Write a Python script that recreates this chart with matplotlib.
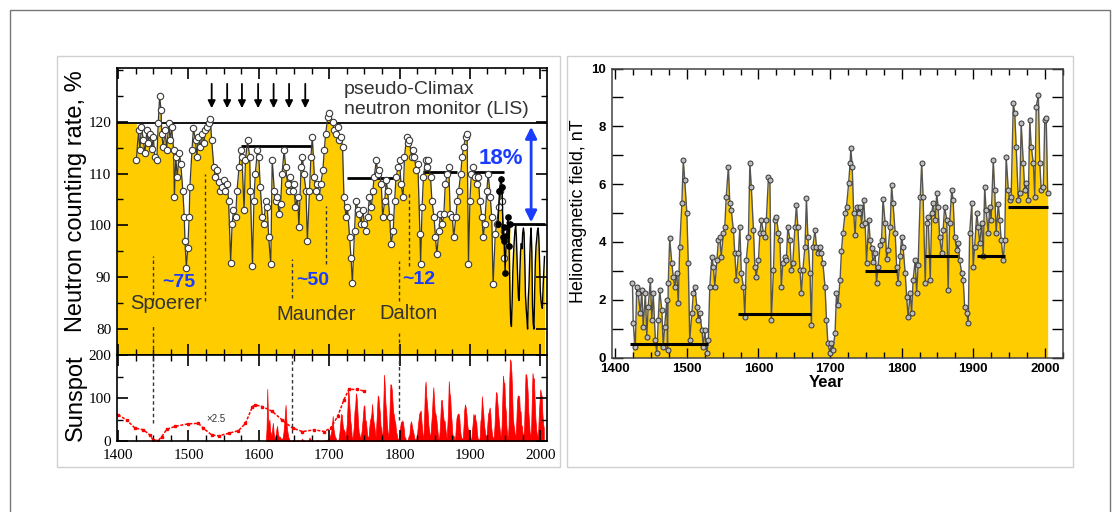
"""
Pseudo-Climax neutron monitor / sunspots (left) and heliomagnetic field (right).
"""
import matplotlib
matplotlib.use("Agg")
from matplotlib import pyplot as plt
from matplotlib.patches import Rectangle
from matplotlib.ticker import MultipleLocator, FixedLocator

plt.rcParams['font.family'] = ['Liberation Sans', 'DejaVu Sans']

# ---------------- data: neutron counting rate (10Be based, annual) ----------------
n_years = [1426, 1429, 1431, 1433, 1436, 1438, 1441, 1443, 1445, 1448,
           1450, 1452, 1455, 1457, 1459, 1461, 1462, 1464, 1467, 1469,
           1472, 1474, 1476, 1479, 1480, 1482, 1484, 1487, 1489, 1492,
           1494, 1495, 1497, 1499, 1501, 1502, 1505, 1507, 1510, 1512,
           1514, 1517, 1519, 1522, 1524, 1526, 1529, 1531, 1533, 1536,
           1538, 1541, 1543, 1545, 1548, 1550, 1552, 1555, 1557, 1560,
           1562, 1564, 1567, 1569, 1572, 1574, 1576, 1579, 1581, 1584,
           1587, 1588, 1591, 1593, 1595, 1598, 1600, 1602, 1605, 1607,
           1610, 1612, 1614, 1617, 1619, 1622, 1624, 1626, 1629, 1631,
           1633, 1636, 1638, 1641, 1643, 1645, 1648, 1650, 1652, 1655,
           1657, 1660, 1662, 1664, 1667, 1669, 1672, 1674, 1676, 1679,
           1681, 1683, 1686, 1688, 1691, 1693, 1695, 1698, 1700, 1705,
           1707, 1710, 1712, 1714, 1717, 1719, 1721, 1724, 1726, 1729,
           1731, 1733, 1736, 1738, 1741, 1743, 1745, 1748, 1750, 1752,
           1755, 1757, 1760, 1762, 1764, 1767, 1769, 1771, 1774, 1776,
           1779, 1781, 1783, 1786, 1788, 1791, 1793, 1795, 1798, 1800,
           1802, 1805, 1807, 1810, 1812, 1814, 1817, 1819, 1821, 1824,
           1826, 1829, 1830, 1832, 1834, 1837, 1839, 1841, 1844, 1846,
           1849, 1851, 1853, 1856, 1858, 1861, 1863, 1865, 1868, 1870,
           1872, 1875, 1877, 1880, 1882, 1884, 1887, 1889, 1891, 1894,
           1896, 1898, 1900, 1902, 1905, 1907, 1910, 1912, 1914, 1917,
           1919, 1921, 1924, 1926, 1929, 1931, 1933, 1936, 1938, 1941,
           1943, 1945, 1948, 1949]
n_values = [112.6, 118.4, 114.5, 119.0, 116.4, 113.9, 118.4, 115.8, 117.7, 114.8,
            117.1, 113.2, 112.6, 119.7, 124.9, 122.3, 117.7, 115.1, 118.4, 114.5,
            119.7, 116.4, 119.0, 114.5, 105.4, 113.2, 109.3, 113.9, 111.9, 106.7,
            101.6, 97.0, 91.8, 95.7, 101.6, 107.4, 114.5, 118.7, 116.4, 113.2,
            117.1, 115.1, 117.7, 115.8, 118.4, 119.0, 119.7, 120.6, 116.4, 111.3,
            109.3, 110.6, 108.4, 106.7, 107.4, 108.7, 106.7, 108.0, 104.8, 92.8,
            100.3, 102.9, 101.6, 106.7, 111.3, 114.5, 113.2, 102.9, 112.6, 116.4,
            113.2, 106.7, 92.2, 104.8, 110.0, 114.5, 113.2, 107.4, 101.6, 100.3,
            104.8, 103.5, 97.7, 92.5, 112.6, 106.7, 104.8, 105.4, 102.2, 104.1,
            110.0, 114.5, 111.3, 108.0, 106.7, 109.3, 106.7, 108.0, 103.5, 105.4,
            99.6, 111.3, 113.2, 110.0, 106.7, 97.0, 106.7, 113.2, 117.1, 109.3,
            106.7, 108.0, 105.4, 108.0, 110.6, 114.5, 117.7, 121.0, 121.6, 120.0,
            118.4, 117.7, 119.0, 116.4, 117.1, 115.1, 105.4, 101.6, 103.5, 97.7,
            93.8, 88.9, 99.0, 104.8, 102.9, 102.2, 100.3, 102.9, 100.3, 99.0,
            101.6, 105.4, 103.5, 106.7, 109.3, 112.6, 110.0, 110.6, 108.0, 101.6,
            104.8, 108.7, 106.7, 101.6, 96.4, 99.0, 104.8, 109.3, 111.3, 112.6,
            108.0, 105.4, 113.2, 117.1, 115.8, 116.4, 113.2, 114.5, 113.2, 110.6,
            111.9, 98.3, 92.5, 103.5, 109.3, 112.6, 111.3, 112.6, 109.3, 104.8,
            101.6, 97.7, 94.4, 99.0, 102.2, 100.3, 102.2, 108.0, 110.0, 111.3,
            102.2, 101.6, 97.7, 101.6, 104.8, 106.7, 110.0, 113.2, 115.1, 117.1,
            117.7, 92.5, 104.8, 110.0, 111.3, 109.3, 108.0, 109.3, 104.8, 101.6,
            97.7, 100.3, 106.7, 110.0, 105.4, 101.6, 88.6, 98.3, 100.3, 103.5,
            106.7, 104.8, 99.0, 93.8]

# ionization-chamber era (black dots)
ic_years = [1940, 1942, 1944, 1946, 1947, 1948, 1949, 1950, 1952, 1954, 1955, 1957]
ic_values = [100.3, 106.7, 109.0, 107.4, 97.7, 99.6, 97.0, 90.9, 98.0, 101.6, 96.0, 100.3]

# neutron monitor era
nm_years = list(range(1953, 2007))
nm_values = [100.5, 100.8, 99.5, 94.0, 86.0, 81.5, 80.5, 85.0, 91.0, 94.5,
             97.0, 99.0, 100.0, 98.0, 93.5, 89.5, 86.0, 85.5, 91.0, 95.0,
             96.5, 95.5, 98.5, 99.5, 98.5, 93.0, 86.5, 84.0, 82.0, 80.0,
             86.0, 88.5, 93.5, 97.5, 99.5, 95.0, 84.5, 81.0, 80.0, 87.0,
             93.0, 96.0, 97.5, 99.0, 99.5, 97.5, 93.0, 87.5, 85.5, 84.5,
             84.0, 88.0, 91.0, 94.0]

lis_level = 119.7
n_seg_start = [1574, 1725, 1834, 1905, 1955]
n_seg_end = [1674, 1795, 1881, 1948, 2007]
n_seg_level = [115.4, 109.2, 110.3, 110.3, 100.3]
arrow_years = [1533, 1555, 1576, 1599, 1621, 1643, 1666]

# ---------------- data: sunspots ----------------
tele_years = list(range(1610, 1646)) + [1650, 1652, 1655, 1660, 1661, 1665, 1670, 1671,
                                        1672, 1675, 1680, 1684, 1685, 1690, 1695, 1699]
tele_values = [0, 30, 121, 55, 35, 50, 25, 18, 12, 28,
               42, 20, 8, 6, 14, 28, 35, 18, 12, 8,
               10, 6, 5, 4, 9, 20, 38, 60, 84, 52,
               28, 18, 9, 4, 2, 0,
               3, 0, 2, 0, 5, 0, 0, 4, 8, 0, 0, 3, 0, 0, 2, 4]

sun_years = list(range(1700, 2006))
sun_values = [5, 11, 16, 23, 36, 58, 29, 20, 10, 8,
              3, 0, 0, 2, 11, 27, 47, 63, 60, 39,
              28, 26, 22, 11, 21, 40, 78, 122, 103, 73,
              47, 35, 11, 5, 16, 34, 70, 81, 111, 101,
              73, 40, 20, 16, 5, 11, 22, 40, 60, 81,
              83, 48, 48, 31, 12, 10, 10, 32, 48, 54,
              63, 86, 61, 45, 36, 21, 11, 38, 70, 106,
              101, 82, 66, 35, 31, 7, 20, 92, 154, 126,
              85, 68, 38, 23, 10, 24, 83, 132, 131, 118,
              90, 67, 60, 47, 41, 21, 16, 6, 4, 7,
              14, 34, 45, 43, 48, 42, 28, 10, 8, 2,
              0, 1, 5, 12, 14, 35, 46, 41, 30, 24,
              16, 7, 4, 2, 8, 17, 36, 50, 64, 67,
              71, 48, 28, 8, 13, 57, 121, 138, 103, 86,
              65, 37, 24, 11, 15, 40, 62, 98, 125, 96,
              67, 64, 54, 39, 21, 7, 4, 23, 55, 94,
              96, 77, 59, 44, 47, 30, 16, 7, 37, 74,
              139, 111, 102, 66, 45, 17, 11, 12, 3, 6,
              32, 54, 60, 64, 63, 52, 25, 13, 7, 6,
              7, 36, 73, 85, 78, 64, 42, 26, 27, 12,
              10, 3, 5, 24, 42, 63, 54, 62, 48, 44,
              19, 6, 4, 1, 10, 47, 57, 104, 81, 64,
              38, 26, 14, 6, 17, 44, 64, 69, 78, 65,
              36, 21, 11, 6, 9, 36, 80, 114, 110, 89,
              68, 47, 31, 16, 10, 33, 93, 152, 136, 135,
              84, 69, 31, 14, 4, 38, 142, 190, 185, 159,
              112, 54, 38, 28, 10, 15, 47, 94, 106, 105,
              104, 67, 69, 38, 34, 15, 13, 27, 92, 155,
              155, 140, 116, 67, 46, 18, 13, 29, 100, 158,
              143, 146, 94, 55, 30, 17, 9, 21, 64, 93,
              120, 111, 104, 64, 40, 30]

# reconstructed sunspot number (x2.5)
rec_years = [1400, 1412, 1424, 1436, 1445, 1450, 1457, 1462, 1469, 1481, 1500,
             1514, 1521, 1533, 1543, 1557, 1571, 1581, 1591, 1595, 1605, 1619,
             1633, 1648, 1662, 1679, 1693, 1702, 1712, 1721, 1728, 1740, 1750]
rec_values = [61, 49, 30, 26, 14, 2, 1, 10, 27, 34, 40,
              41, 30, 14, 12, 18, 24, 41, 80, 84, 80, 69,
              49, 30, 22, 26, 22, 30, 57, 96, 120, 120, 116]

# ---------------- data: heliomagnetic field ----------------
hmf_years = [1424, 1425, 1428, 1430, 1432, 1435, 1437, 1439, 1442, 1444,
             1446, 1449, 1451, 1453, 1456, 1458, 1460, 1462, 1465, 1467,
             1469, 1472, 1473, 1474, 1476, 1479, 1481, 1483, 1486, 1488,
             1490, 1493, 1495, 1497, 1500, 1502, 1504, 1507, 1509, 1511,
             1514, 1516, 1518, 1521, 1523, 1525, 1528, 1530, 1532, 1535,
             1537, 1539, 1542, 1544, 1546, 1548, 1551, 1553, 1555, 1558,
             1560, 1562, 1565, 1567, 1569, 1572, 1574, 1576, 1579, 1581,
             1583, 1586, 1588, 1590, 1593, 1595, 1597, 1600, 1602, 1604,
             1607, 1609, 1611, 1614, 1616, 1618, 1621, 1623, 1625, 1628,
             1630, 1632, 1634, 1637, 1639, 1641, 1644, 1646, 1648, 1651,
             1653, 1655, 1658, 1660, 1662, 1665, 1667, 1669, 1672, 1674,
             1676, 1679, 1681, 1683, 1686, 1688, 1690, 1693, 1695, 1697,
             1700, 1702, 1704, 1707, 1709, 1711, 1714, 1716, 1718, 1721,
             1723, 1726, 1728, 1729, 1731, 1733, 1735, 1737, 1740, 1742,
             1744, 1747, 1749, 1751, 1754, 1756, 1758, 1760, 1763, 1765,
             1767, 1770, 1772, 1774, 1777, 1779, 1781, 1784, 1786, 1788,
             1791, 1793, 1795, 1798, 1800, 1802, 1805, 1807, 1809, 1812,
             1814, 1816, 1819, 1821, 1823, 1826, 1828, 1830, 1833, 1835,
             1837, 1840, 1842, 1844, 1847, 1849, 1851, 1853, 1856, 1858,
             1860, 1863, 1865, 1867, 1870, 1872, 1874, 1877, 1879, 1881,
             1884, 1886, 1888, 1891, 1893, 1895, 1898, 1900, 1902, 1905,
             1907, 1909, 1912, 1914, 1916, 1918, 1921, 1923, 1925, 1928,
             1930, 1932, 1935, 1937, 1939, 1942, 1944, 1946, 1949, 1951,
             1953, 1956, 1958, 1960, 1963, 1965, 1967, 1970, 1972, 1974,
             1977, 1979, 1981, 1984, 1986, 1988, 1991, 1993, 1995, 1998,
             2000, 2002, 2004]
hmf_values = [2.57, 1.18, 0.37, 2.45, 2.22, 1.53, 2.33, 1.07, 2.22, 0.72,
              1.76, 2.68, 1.30, 2.22, 0.61, 0.14, 1.30, 2.33, 1.64, 0.37,
              1.07, 1.99, 0.26, 2.57, 4.12, 3.26, 2.80, 2.45, 2.91, 1.88,
              3.84, 5.33, 6.83, 6.14, 4.99, 3.26, 0.61, 1.53, 2.22, 2.45,
              1.76, 1.30, 1.53, 0.95, 0.37, 0.95, 0.14, 0.61, 2.45, 3.49,
              3.14, 2.45, 3.37, 4.07, 4.18, 3.49, 4.30, 4.53, 5.57, 6.60,
              5.33, 5.10, 4.41, 3.60, 2.68, 3.60, 4.53, 2.91, 2.45, 1.41,
              3.37, 4.18, 6.72, 5.91, 4.41, 3.14, 2.80, 3.37, 4.30, 4.76,
              4.30, 4.18, 4.76, 6.26, 6.14, 1.30, 3.03, 4.76, 4.87, 4.30,
              4.07, 2.45, 3.26, 3.49, 3.37, 4.53, 4.07, 3.03, 3.26, 4.53,
              5.28, 4.53, 3.03, 2.22, 3.03, 3.84, 5.51, 4.18, 2.91, 1.12,
              3.84, 4.41, 3.84, 3.60, 3.84, 3.60, 3.26, 2.45, 1.30, 0.49,
              0.14, 0.49, 0.26, 0.84, 2.22, 1.80, 2.68, 3.70, 4.30, 5.00,
              5.22, 6.03, 6.72, 7.24, 6.60, 5.00, 4.24, 5.22, 5.00, 5.22,
              4.60, 5.45, 4.64, 3.26, 4.76, 4.07, 3.80, 3.30, 3.60, 2.57,
              3.14, 3.90, 4.07, 5.50, 4.64, 3.40, 3.72, 4.53, 5.97, 5.33,
              4.30, 3.14, 2.57, 3.50, 4.18, 3.83, 2.91, 2.10, 1.41, 2.22,
              1.53, 2.68, 3.37, 2.22, 3.20, 5.57, 6.72, 5.57, 2.57, 4.64,
              4.87, 2.68, 4.99, 5.33, 4.76, 5.68, 5.22, 4.18, 3.60, 4.40,
              5.22, 4.76, 2.33, 4.64, 5.80, 5.45, 4.18, 3.72, 3.95, 3.37,
              2.91, 2.68, 1.76, 1.53, 1.18, 4.30, 5.33, 3.14, 3.83, 4.99,
              4.53, 3.95, 4.64, 3.50, 5.91, 5.10, 4.30, 5.22, 4.76, 6.83,
              5.80, 4.30, 5.30, 4.76, 4.07, 3.37, 4.07, 6.95, 5.80, 5.45,
              5.57, 8.80, 8.45, 7.30, 5.45, 5.68, 8.10, 6.72, 5.80, 6.03,
              5.45, 8.22, 7.30, 6.72, 5.57, 8.68, 9.08, 6.72, 5.80, 5.90,
              8.22, 8.27, 5.68]
h_seg_start = [1421, 1572, 1749, 1832, 1905, 1949]
h_seg_end = [1530, 1674, 1793, 1879, 1944, 2004]
h_seg_level = [0.45, 1.5, 3.0, 3.5, 3.5, 5.2]

YELLOW = '#ffcc00'
BLUE = '#1a3cff'
SERIF = 'Liberation Serif'
W, H = 1120, 512

fig = plt.figure(figsize=(W / 100, H / 100), dpi=100)


def frame(x0, y0, x1, y1, color, lw=1.0):
    """Draw a rectangle given in pixel coords (origin top left)."""
    fig.add_artist(Rectangle((x0 / W, 1 - y1 / H), (x1 - x0) / W, (y1 - y0) / H,
                             transform=fig.transFigure, fill=False, ec=color, lw=lw))


frame(10, 10, 1110, 530, '#777777')
frame(57, 56, 560, 467, '#d0d0d0')
frame(567, 56, 1073, 467, '#d0d0d0')

ax_n = fig.add_axes([116.7 / W, 1 - 355 / H, 430.6 / W, 286.7 / H])
ax_s = fig.add_axes([116.7 / W, 1 - 441 / H, 430.6 / W, 86 / H])
ax_h = fig.add_axes([611.7 / W, 1 - 357.5 / H, 451 / W, 289 / H])

# ---------- neutron panel ----------
ax_n.set_xlim(1398, 2010)
ax_n.set_ylim(75, 130.3)
# flat LIS level before the record starts, then the record itself (one polygon, no seam)
fill_x = [1398, n_years[0]] + n_years
fill_y = [lis_level, lis_level] + n_values
ax_n.fill_between(fill_x, fill_y, 75, color=YELLOW, lw=0)
ax_n.fill_between(ic_years, ic_values, 75, color=YELLOW, lw=0)
ax_n.fill_between(nm_years, nm_values, 75, color=YELLOW, lw=0)
ax_n.axhline(lis_level, color='k', lw=1.3, zorder=2)
ax_n.hlines(n_seg_level, n_seg_start, n_seg_end, colors='k', lw=2, zorder=2)

# minima boundaries
dash = (0, (2.5, 2))
ax_n.vlines([1450, 1524, 1647, 1695, 1799, 1813],
            [85.5, 85.4, 86.0, 92.5, 85.4, 92.2],
            [94.1, 110.0, 93.5, 103.8, 93.1, 106.7],
            colors='#333333', lw=1, linestyles=dash, zorder=2)
ax_n.vlines([1450, 1799], [75, 75], [80.9, 79.2], colors='#333333', lw=1, linestyles=dash)

ax_n.plot(nm_years, nm_values, color='k', lw=1, zorder=3)
ax_n.plot(n_years, n_values, color='#3a3a3a', lw=0.9, marker='o', ms=4.6,
          mfc='white', mec='#3a3a3a', mew=0.8, zorder=4)
ax_n.plot(ic_years, ic_values, color='k', lw=0.9, marker='o', ms=3.8,
          mfc='k', mec='k', zorder=5)

for yr in arrow_years:
    ax_n.annotate('', xy=(yr, 122.6), xytext=(yr, 127.3),
                  arrowprops=dict(arrowstyle='-|>', color='k', lw=1.3,
                                  mutation_scale=11, shrinkA=0, shrinkB=0))
ax_n.annotate('', xy=(1987, 100.6), xytext=(1987, 119.0),
              arrowprops=dict(arrowstyle='<|-|>', color=BLUE, lw=2,
                              mutation_scale=17, shrinkA=0, shrinkB=0))

ax_n.text(1721, 126.2, 'pseudo-Climax', fontsize=14, color='#333333', va='center')
ax_n.text(1721, 122.3, 'neutron monitor (LIS)', fontsize=14, color='#333333', va='center')
ax_n.text(1944, 112.9, '18%', fontsize=16, color=BLUE, fontweight='bold', ha='center', va='center')
ax_n.text(1486, 89.0, '~75', fontsize=14, color=BLUE, fontweight='bold', ha='center', va='center')
ax_n.text(1677, 89.3, '~50', fontsize=14, color=BLUE, fontweight='bold', ha='center', va='center')
ax_n.text(1827, 89.6, '~12', fontsize=14, color=BLUE, fontweight='bold', ha='center', va='center')
ax_n.text(1468, 85.0, 'Spoerer', fontsize=14.5, color='#333333', ha='center', va='center')
ax_n.text(1682, 82.9, 'Maunder', fontsize=14.5, color='#333333', ha='center', va='center')
ax_n.text(1813, 83.0, 'Dalton', fontsize=14.5, color='#333333', ha='center', va='center')

ax_n.xaxis.set_major_locator(MultipleLocator(100))
ax_n.xaxis.set_minor_locator(MultipleLocator(25))
ax_n.yaxis.set_major_locator(FixedLocator([80, 90, 100, 110, 120]))
ax_n.yaxis.set_minor_locator(FixedLocator([85, 95, 105, 115, 125, 130]))
ax_n.tick_params(which='both', direction='in', top=True, right=True, labelbottom=False,
                 labelsize=11, labelfontfamily=SERIF, pad=4)
ax_n.tick_params(which='major', length=8, width=1.2)
ax_n.tick_params(which='minor', length=4, width=1)
ax_n.set_ylabel('Neutron counting rate, %', fontsize=17)
ax_n.yaxis.set_label_coords(-0.069, 0.537)
for sp in ax_n.spines.values():
    sp.set_linewidth(1.2)

# ---------- sunspot panel ----------
ax_s.set_xlim(1398, 2010)
ax_s.set_ylim(0, 200)
ax_s.fill_between(tele_years, tele_values, 0, color='red', lw=0.5)
ax_s.fill_between(sun_years, sun_values, 0, color='red', lw=0.5)
ax_s.plot(rec_years, rec_values, color='red', lw=1.1, ls=(0, (2, 1)),
          marker='s', ms=1.8, mec='red', mfc='red')
ax_s.vlines([1450, 1647, 1799], [41, 18, 48], 200, colors='#333333', lw=1, linestyles=dash)
ax_s.text(1525, 51, '×2.5', fontsize=7, color='#333333', va='center')
ax_s.xaxis.set_major_locator(MultipleLocator(100))
ax_s.xaxis.set_minor_locator(MultipleLocator(25))
ax_s.yaxis.set_major_locator(MultipleLocator(100))
ax_s.yaxis.set_minor_locator(MultipleLocator(50))
ax_s.tick_params(which='both', direction='in', top=True, right=True,
                 labelsize=11, labelfontfamily=SERIF)
ax_s.tick_params(axis='y', pad=4)
ax_s.tick_params(axis='x', pad=6)
ax_s.tick_params(which='major', length=8, width=1.2)
ax_s.tick_params(which='minor', length=4, width=1)
ax_s.set_ylabel('Sunspot', fontsize=17)
ax_s.yaxis.set_label_coords(-0.069, 0.5)
for sp in ax_s.spines.values():
    sp.set_linewidth(1.2)

# ---------- heliomagnetic field panel ----------
ax_h.set_xlim(1395, 2025)
ax_h.set_ylim(0, 10)
ax_h.fill_between(hmf_years, hmf_values, 0, color=YELLOW, lw=0)
ax_h.plot(hmf_years, hmf_values, color='#555555', lw=1, marker='o', ms=3.6,
          mfc='#bdbdbd', mec='#333333', mew=0.7, zorder=3)
ax_h.hlines(h_seg_level, h_seg_start, h_seg_end, colors='k', lw=2.2, zorder=4)
ax_h.xaxis.set_major_locator(MultipleLocator(100))
ax_h.xaxis.set_minor_locator(MultipleLocator(25))
ax_h.yaxis.set_major_locator(MultipleLocator(2))
ax_h.yaxis.set_minor_locator(MultipleLocator(1))
ax_h.tick_params(which='both', direction='in', top=True, right=True, labelsize=9.5, pad=4)
ax_h.tick_params(axis='x', which='major', length=7, width=1)
ax_h.tick_params(axis='x', which='minor', length=4, width=1)
ax_h.tick_params(axis='y', which='both', length=8, width=1)
for lab in ax_h.get_xticklabels() + ax_h.get_yticklabels():
    lab.set_fontweight('bold')
ax_h.set_ylabel('Heliomagnetic field, nT', fontsize=13)
ax_h.yaxis.set_label_coords(-0.055, 0.507)
ax_h.set_xlabel('Year', fontsize=12, fontweight='bold')
ax_h.xaxis.set_label_coords(0.475, -0.062)
for sp in ax_h.spines.values():
    sp.set_linewidth(1.1)
    sp.set_color('#444444')

fig.savefig('out.png', dpi=100)
